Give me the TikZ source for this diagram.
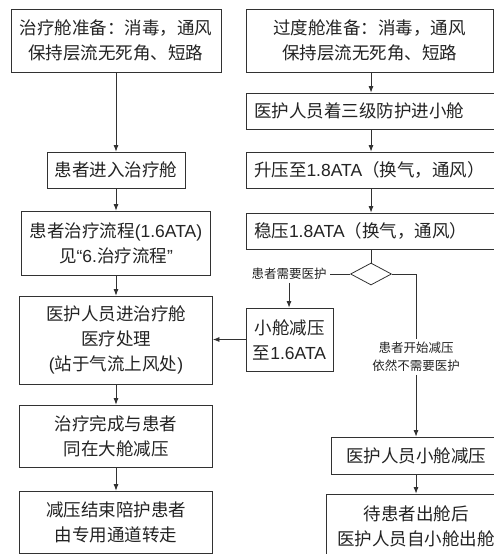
\documentclass[tikz,border=0pt]{standalone}
\usepackage{fontspec}
\setmainfont{Noto Sans CJK SC}
\newfontfamily\lat{Liberation Sans}
\newcommand{\lt}[1]{{\lat #1}}
\newcommand{\flp}{\makebox[1em][r]{（}}
\newcommand{\frp}{\makebox[1em][l]{）}}
\newcommand{\fcm}{\makebox[1em][l]{，}}
\usetikzlibrary{arrows.meta,shapes.geometric}
\definecolor{linec}{RGB}{50,50,50}
\definecolor{textc}{RGB}{35,35,35}
\begin{document}
\begin{tikzpicture}[x=1pt,y=-1pt,
  box/.style={draw=linec, line width=0.8pt, align=center, inner sep=0pt, text=textc,
    font=\fontsize{17.5}{25}\selectfont},
  lbox/.style={draw=linec, line width=0.8pt, align=left, inner xsep=8pt, inner ysep=0pt,
    text width=238pt, minimum height=36pt, text=textc, font=\fontsize{17.5}{25}\selectfont},
  conn/.style={draw=linec, line width=0.8pt},
  arr/.style={conn, -{Latex[length=6.5pt,width=5pt]}},
  lab/.style={fill=white, text=textc, font=\fontsize{12.5}{18}\selectfont, align=center, inner sep=3pt}]
\useasboundingbox (0,0) rectangle (494,554);
\clip (0,0) rectangle (494,554);
\fill[white] (0,0) rectangle (494,554);

% left column
\node[box, minimum width=210pt, minimum height=63pt] (L1) at (116,40.5) {治疗舱准备：消毒，通风\\保持层流无死角、短路};
\node[box, minimum width=138pt, minimum height=36pt] (L2) at (116,170) {患者进入治疗舱};
\node[box, minimum width=189pt, minimum height=64pt] (L3) at (116,243) {患者治疗流程\lt{(1.6ATA)}\\见\lt{“6.}治疗流程\lt{”}};
\node[box, minimum width=193pt, minimum height=88pt] (L4) at (116,340) {医护人员进治疗舱\\医疗处理\\\lt{(}站于气流上风处\lt{)}};
\node[box, minimum width=193pt, minimum height=62pt] (L5) at (116,436) {治疗完成与患者\\同在大舱减压};
\node[box, minimum width=193pt, minimum height=62pt] (L6) at (116,522) {减压结束陪护患者\\由专用通道转走};

% right column
\node[box, minimum width=247pt, minimum height=63pt] (R1) at (369.5,40.5) {过度舱准备：消毒，通风\\保持层流无死角、短路};
\node[lbox] (R2) at (373,111) {医护人员着三级防护进小舱};
\node[lbox] (R3) at (373,170) {升压至\lt{1.8ATA}\flp 换气\fcm 通风\frp};
\node[lbox] (R4) at (373,231) {稳压\lt{1.8ATA}\flp 换气\fcm 通风\frp};
\node[draw=linec, line width=0.8pt, diamond, inner sep=0pt, minimum width=41pt, minimum height=22pt] (D) at (371,274) {};
\node[lab] (ln) at (289,274) {患者需要医护};
\node[box, minimum width=87pt, minimum height=63pt] (S) at (289.5,339.5) {小舱减压\\至\lt{1.6ATA}};
\node[lab] (rl) at (416,357) {患者开始减压\\依然不需要医护};
\node[box, minimum width=170pt, minimum height=37pt] (R5) at (416,455.5) {医护人员小舱减压};
\node[box, minimum width=180pt, minimum height=64pt] (R6) at (416,526) {待患者出舱后\\医护人员自小舱出舱};

% connectors left
\draw[arr] (L1) -- (L2);
\draw[arr] (L2) -- (L3);
\draw[arr] (L3) -- (L4);
\draw[arr] (L4) -- (L5);
\draw[arr] (L5) -- (L6);

% connectors right
\draw[arr] (R1.south -| D) -- (R2.north -| D);
\draw[arr] (R2.south -| D) -- (R3.north -| D);
\draw[arr] (R3.south -| D) -- (R4.north -| D);
\draw[conn] (R4.south -| D) -- (D.north);
\draw[conn] (D.west) -- (ln.east);
\draw[arr] (ln.south) -- (ln.south |- S.north);
\draw[arr] (S.west) -- (S.west -| L4.east);
\draw[conn] (D.east) -| (rl.north);
\draw[arr] (rl.south) -- (R5.north);
\draw[arr] (R5) -- (R6);
\end{tikzpicture}
\end{document}
